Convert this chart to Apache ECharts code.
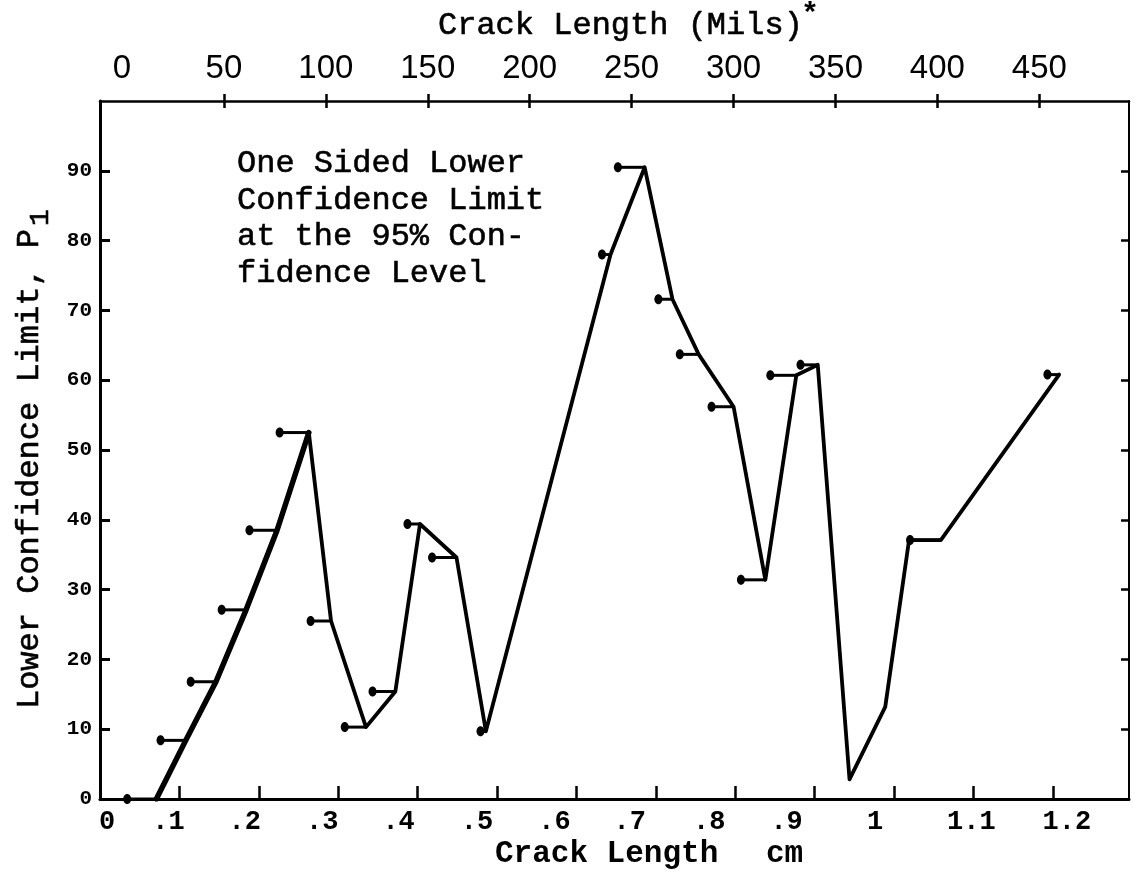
<!DOCTYPE html>
<html>
<head>
<meta charset="utf-8">
<title>Lower Confidence Limit vs Crack Length</title>
<script src="https://cdn.jsdelivr.net/npm/echarts@6/dist/echarts.min.js"></script>
<style>
  html, body { margin: 0; padding: 0; background: #fff; }
  #chart { width: 1135px; height: 879px; }
</style>
</head>
<body>
<div id="chart"></div>
<script>
// crack length (cm) of each plotted point
const crackCm = [0.071, 0.108, 0.146, 0.184, 0.223, 0.263, 0.291, 0.335, 0.372, 0.403, 0.449, 0.486,
  0.643, 0.686, 0.721, 0.754, 0.798, 0.838, 0.877, 0.904, 0.944, 0.989, 1.019, 1.059, 1.208];
// one sided lower confidence limit P1 at each point
const lowerLimit = [0, 8.4, 16.8, 27.1, 38.5, 52.5, 25.5, 10.3, 15.4, 39.4, 34.6, 9.7,
  78.0, 90.5, 71.6, 63.7, 56.2, 31.4, 60.7, 62.2, 2.8, 13.2, 37.1, 37.1, 60.8];
// left end of the horizontal bar at each point (null = no bar)
const barStartCm = [0.033, 0.075, 0.113, 0.152, 0.187, 0.225, 0.264, 0.307, 0.342, 0.386, 0.417, 0.478,
  0.631, 0.651, 0.702, 0.729, 0.769, 0.806, 0.843, 0.881, null, null, null, 1.019, 1.192];

// tick labels
const cmTicks = [0, 0.1, 0.2, 0.3, 0.4, 0.5, 0.6, 0.7, 0.8, 0.9, 1, 1.1, 1.2];
const milsTicks = [0, 50, 100, 150, 200, 250, 300, 350, 400, 450];
const limitTicks = [0, 10, 20, 30, 40, 50, 60, 70, 80, 90];
const noteLines = ['One Sided Lower', 'Confidence Limit', 'at the 95% Con-', 'fidence Level'];

const MONO = "'Liberation Mono', 'DejaVu Sans Mono', monospace";
const SANS = "'Liberation Sans', Arial, sans-serif";

// the typed bottom labels do not sit exactly on their ticks (px shift per label)
const labelNudge = [7, -11, -14, -16, -19, -20, -22, -26, -26, -28, -19, -2, 14];
const cmRich = {};
labelNudge.forEach(function (s, k) {
  cmRich['n' + k] = {
    fontFamily: MONO, fontSize: 27, fontWeight: 'bold', color: '#000',
    padding: s < 0 ? [0, -2 * s, 0, 0] : [0, 0, 0, 2 * s]
  };
});
function cmLabel(v) {
  const k = Math.round(v * 10);
  if (k > 12 || Math.abs(v * 10 - k) > 0.01) return '';
  let t;
  if (k === 0) t = '0';
  else if (k < 10) t = '.' + k;
  else if (k === 10) t = '1';
  else t = (k / 10).toFixed(1);
  return '{n' + k + '|' + t + '}';
}

const chart = echarts.init(document.getElementById('chart'));

const linePoints = crackCm.map(function (x, i) { return [x, lowerLimit[i]]; });
const bars = [];
crackCm.forEach(function (x, i) {
  if (barStartCm[i] !== null) bars.push([barStartCm[i], x, lowerLimit[i]]);
});

const option = {
  animation: false,
  backgroundColor: '#fff',
  grid: [
    { left: 100, right: 6, top: 101, bottom: 80, outerBoundsMode: 'none' },
    { left: 122, right: 6, top: 101, bottom: 80, outerBoundsMode: 'none' }
  ],
  xAxis: [
    {
      gridIndex: 0, type: 'value', position: 'bottom', min: 0, max: 1.296, interval: 0.1,
      axisLine: { show: true, onZero: false, lineStyle: { color: '#000', width: 3 } },
      axisTick: { show: true, inside: true, length: 13, lineStyle: { color: '#000', width: 2.5 },
        customValues: cmTicks.slice(1) },
      axisLabel: { margin: 10, formatter: cmLabel, rich: cmRich, customValues: cmTicks },
      splitLine: { show: false }
    },
    {
      gridIndex: 0, type: 'value', position: 'top', min: 0, max: 1.296,
      axisLine: { show: true, onZero: false, lineStyle: { color: '#000', width: 2.5 } },
      axisTick: { show: false }, axisLabel: { show: false }, splitLine: { show: false }
    },
    {
      gridIndex: 1, type: 'value', position: 'top', min: 0, max: 494, interval: 50,
      axisLine: { show: false, onZero: false },
      axisTick: { show: true, length: 7, lineStyle: { color: '#000', width: 2.5 },
        customValues: milsTicks.slice(1) },
      axisLabel: { margin: 16, fontFamily: SANS, fontSize: 33, color: '#000',
        customValues: milsTicks,
        formatter: function (v) { return v > 450 ? '' : String(v); } },
      splitLine: { show: false }
    },
    {
      gridIndex: 1, type: 'value', position: 'top', min: 0, max: 494, interval: 50,
      axisLine: { show: false, onZero: false },
      axisTick: { show: true, inside: true, length: 7, lineStyle: { color: '#000', width: 2.5 },
        customValues: milsTicks.slice(1) },
      axisLabel: { show: false }, splitLine: { show: false }
    }
  ],
  yAxis: [
    {
      gridIndex: 0, type: 'value', min: 0, max: 100, interval: 10,
      axisLine: { show: true, onZero: false, lineStyle: { color: '#000', width: 3 } },
      axisTick: { show: true, inside: true, length: 10, lineStyle: { color: '#000', width: 3 },
        customValues: limitTicks.slice(1) },
      axisLabel: { margin: 8, fontFamily: MONO, fontWeight: 'bold', fontSize: 21, color: '#000',
        customValues: limitTicks,
        formatter: function (v) { return v >= 100 ? '' : String(v); } },
      splitLine: { show: false }
    },
    {
      gridIndex: 0, type: 'value', position: 'right', min: 0, max: 100, interval: 10,
      axisLine: { show: true, onZero: false, lineStyle: { color: '#000', width: 2 } },
      axisTick: { show: true, inside: true, length: 8, lineStyle: { color: '#000', width: 2.5 },
        customValues: limitTicks.slice(1) },
      axisLabel: { show: false }, splitLine: { show: false }
    },
    { gridIndex: 1, type: 'value', min: 0, max: 100, show: false }
  ],
  series: [
    {
      name: 'rise', type: 'line', xAxisIndex: 0, yAxisIndex: 0,
      data: linePoints.slice(0, 6), showSymbol: false, z: 3,
      lineStyle: { color: '#000', width: 5.5, cap: 'round', join: 'round' }
    },
    {
      name: 'limit', type: 'line', xAxisIndex: 0, yAxisIndex: 0,
      data: linePoints.slice(5), showSymbol: false, z: 3,
      lineStyle: { color: '#000', width: 3.8, cap: 'round', join: 'round' }
    },
    {
      name: 'bars', type: 'custom', xAxisIndex: 0, yAxisIndex: 0, z: 4,
      data: bars, encode: { x: [0, 1], y: 2 }, clip: false,
      renderItem: function (params, api) {
        const a = api.coord([api.value(0), api.value(2)]);
        const b = api.coord([api.value(1), api.value(2)]);
        return {
          type: 'group',
          children: [
            { type: 'line', shape: { x1: a[0], y1: a[1], x2: b[0], y2: b[1] },
              style: { stroke: '#000', lineWidth: 3 } },
            { type: 'ellipse', shape: { cx: a[0] + 1, cy: a[1], rx: 4, ry: 5 },
              style: { fill: '#000' } }
          ]
        };
      }
    }
  ],
  graphic: [
    {
      type: 'text', x: 438, y: 26,
      style: { text: 'Crack Length (Mils)', font: '32px ' + MONO, fill: '#000',
        stroke: '#000', lineWidth: 0.6,
        textAlign: 'left', align: 'left', textVerticalAlign: 'middle', verticalAlign: 'middle' }
    },
    {
      type: 'text', x: 801, y: 15,
      style: { text: '*', font: 'bold 30px ' + MONO, fill: '#000',
        textAlign: 'left', align: 'left', textVerticalAlign: 'middle', verticalAlign: 'middle' }
    },
    {
      type: 'text', x: 237, y: 145,
      style: { text: noteLines.join('\n'), font: '32px ' + MONO, lineHeight: 36.7, fill: '#000',
        stroke: '#000', lineWidth: 0.6,
        textAlign: 'left', align: 'left', textVerticalAlign: 'top', verticalAlign: 'top' }
    },
    {
      type: 'group', x: 30, y: 469, rotation: Math.PI / 2,
      children: [
        { type: 'text', x: 0, y: 0,
          style: { text: 'Lower Confidence Limit, P', font: '32px ' + MONO, fill: '#000',
            stroke: '#000', lineWidth: 0.6,
            textAlign: 'center', align: 'center', textVerticalAlign: 'middle', verticalAlign: 'middle' } },
        { type: 'text', x: 243, y: 11,
          style: { text: '1', font: '28px ' + MONO, fill: '#000',
            stroke: '#000', lineWidth: 0.6,
            textAlign: 'left', align: 'left', textVerticalAlign: 'middle', verticalAlign: 'middle' } }
      ]
    },
    {
      type: 'text', x: 495, y: 854,
      style: { text: 'Crack Length', font: 'bold 31px ' + MONO, fill: '#000',
        textAlign: 'left', align: 'left', textVerticalAlign: 'middle', verticalAlign: 'middle' }
    },
    {
      type: 'text', x: 766, y: 854,
      style: { text: 'cm', font: 'bold 31px ' + MONO, fill: '#000',
        textAlign: 'left', align: 'left', textVerticalAlign: 'middle', verticalAlign: 'middle' }
    }
  ]
};

chart.setOption(option);
window.addEventListener('resize', function () { chart.resize(); });
</script>
</body>
</html>
